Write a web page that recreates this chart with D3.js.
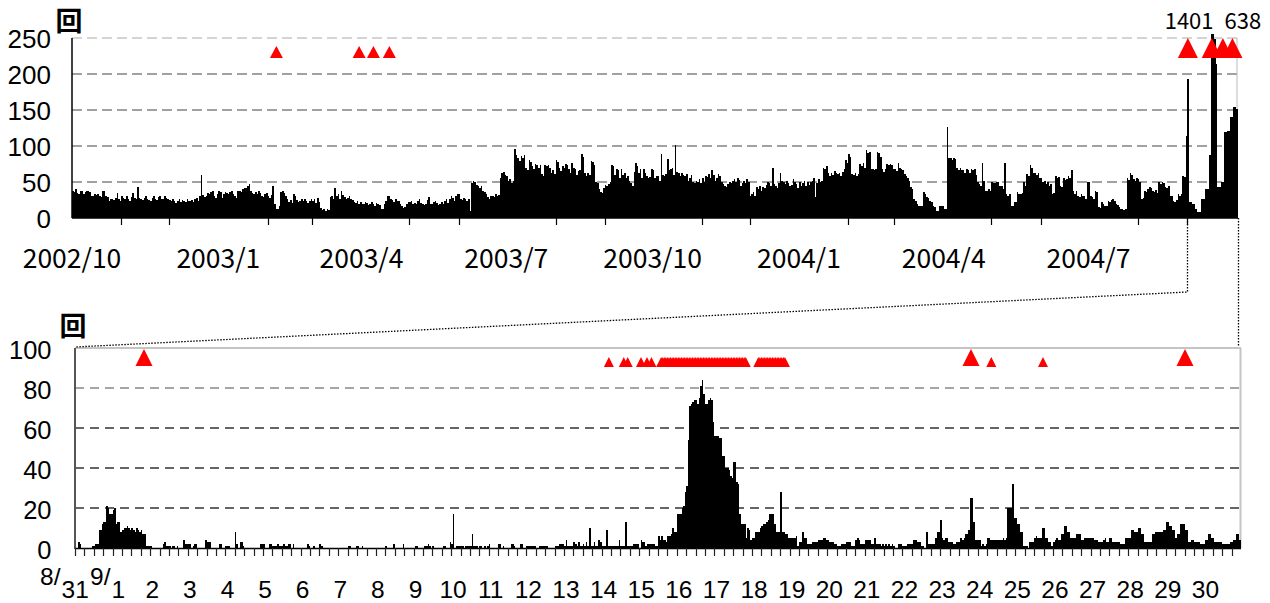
<!DOCTYPE html>
<html><head><meta charset="utf-8">
<script src="https://cdn.jsdelivr.net/npm/d3@7"></script>
<style>body{margin:0;background:#fff}svg{display:block}</style>
</head><body>
<svg id="c" width="1270" height="603"></svg>
<script>
// ---------------- TOP PANEL DATA (daily counts, 2002/10/1 .. 2004/10/2) ----------------
const oct02 = [38,36,40,35,33,38,37,33,36,38,37,36,31,30,34,32,33,30,29,37,38,30,29,24,27,26,25,28,35,27,24];
const nov02 = [30,28,26,31,27,24,29,35,28,26,43,28,26,25,28,30,26,25,24,28,31,27,25,29,30,27,26,31,28,27];
const dec02 = [25,24,27,23,21,24,26,22,25,23,22,26,24,23,25,22,26,28,24,30,60,32,29,31,35,33,36,37,30,28,34];
const jan03 = [37,36,28,34,36,35,33,36,37,34,30,28,37,38,36,40,42,41,45,47,38,35,33,36,34,37,35,30,29,33,35];
const feb03 = [30,28,32,45,20,12,13,16,36,38,35,30,27,22,25,21,34,30,25,22,24,27,23,26,24,21,23,26];
const mar03 = [24,26,21,28,22,14,11,12,10,13,11,29,31,26,42,30,33,27,37,32,29,27,28,30,26,25,22,21,24,20,22];
const apr03 = [20,19,22,21,18,20,22,19,17,21,20,18,13,12,19,24,31,30,27,25,22,26,24,23,20,16,14,15,20,22];
const may03 = [22,24,19,21,20,23,26,21,19,18,20,25,29,20,19,22,24,21,18,20,22,19,23,27,21,26,30,28,24,30,33];
const jun03 = [34,27,25,28,26,24,27,10,48,52,50,46,44,42,45,38,36,34,29,27,30,31,29,33,30,32,55,62,64,60];
const jul03 = [58,52,54,48,51,96,88,84,79,86,84,87,70,66,80,78,72,68,75,73,70,74,61,58,74,72,73,70,63,66,61];
const aug03 = [80,78,70,65,72,70,75,73,68,62,76,70,68,60,65,66,89,85,63,58,63,60,79,78,74,50,48,40,36,35,42];
const sep03 = [46,44,47,50,73,72,60,68,66,55,68,60,62,55,59,52,48,45,64,76,72,62,68,55,68,62,59,55,57,68];
const oct03 = [66,56,59,58,52,89,60,58,61,82,66,68,70,60,102,64,63,58,63,60,58,61,52,55,60,50,48,52,50,54,49];
const nov03 = [56,50,59,57,61,55,66,60,52,56,61,58,50,47,45,43,47,50,48,52,54,50,55,53,45,48,52,49,54,50];
const dec03 = [31,34,36,30,43,40,45,38,43,41,46,50,48,44,70,47,45,42,48,63,52,50,47,52,48,44,46,54,50,47,41];
const jan04 = [50,44,48,52,45,50,46,50,52,56,29,48,54,50,52,70,68,72,63,58,63,60,65,63,61,63,58,64,68,80,76];
const feb04 = [89,85,61,60,62,58,61,75,72,77,70,94,90,91,68,68,66,68,91,90,85,68,64,68,75,73,75,74,68];
const mar04 = [68,65,76,70,68,66,61,58,56,52,43,40,26,24,20,17,16,17,36,34,29,28,24,22,17,15,10,10,17,17,17];
const apr04 = [13,12,126,84,84,80,84,82,70,66,70,66,66,63,68,66,63,68,66,68,60,50,47,45,76,52,38,38,40,38];
const may04 = [50,48,48,50,50,45,45,40,76,33,30,33,17,16,22,22,36,34,33,35,50,45,61,58,74,70,62,63,60,63,56];
const jun04 = [56,50,52,47,50,44,47,33,35,59,55,57,45,43,56,53,54,58,55,66,38,33,38,31,29,33,30,31,27,50];
const jul04 = [50,30,29,27,38,36,15,14,22,20,17,16,24,22,25,26,24,19,18,15,13,12,11,13,56,53,63,60,54,52,55];
const aug04 = [54,50,26,28,38,36,40,43,41,38,36,39,35,50,47,50,48,43,41,44,31,30,24,22,25,33,31,34,59,57,114];
const sep04 = [193,22,22,19,19,12,8,8,8,26,26,40,40,40,87,1401,638,248,214,43,43,50,50,119,119,121,121,140,140,154];
const oct04 = [154,152];

const topYTicks = [0,50,100,150,200,250];
const topXLabels = ["2002/10","2003/1","2003/4","2003/7","2003/10","2004/1","2004/4","2004/7"];
const topEruptSmall = ["2003-02-06","2003-03-30","2003-04-08","2003-04-18"];
const topEruptBig = ["2004-09-01","2004-09-16","2004-09-23","2004-09-29"];
const topValueNotes = [["1401","2004-09-16"],["638","2004-09-17"]];

// ---------------- BOTTOM PANEL DATA (hourly counts, 2004/8/31 .. 9/30) ----------------
const h0831 = [0,0,3,2,0,0,0,0,0,0,0,1,1,2,2,9,9,12,13,13,21,20,17,17];
const h0901 = [19,20,12,13,13,8,9,10,10,11,10,9,10,9,8,10,9,8,9,7,7,1,1,1];
const h0902 = [1,0,0,0,0,0,0,0,2,3,1,1,1,0,1,1,0,1,0,0,0,4,2,2];
const h0903 = [2,2,0,1,2,2,0,0,0,0,0,4,3,3,3,0,0,0,0,0,2,2,0,0];
const h0904 = [1,1,1,0,0,0,8,2,0,3,3,1,0,0,0,0,0,0,0,0,0,0,2,2];
const h0905 = [2,0,0,0,2,2,1,1,1,2,1,1,1,2,1,1,2,2,0,2,0,0,0,0];
const h0906 = [0,0,0,0,2,1,0,0,1,0,0,0,2,1,0,0,0,0,0,0,0,0,0,0];
const h0907 = [0,0,0,0,0,0,1,1,0,0,0,1,1,0,0,1,0,0,0,0,0,0,0,0];
const h0908 = [0,0,0,0,0,0,1,0,0,0,0,2,0,0,0,0,0,2,0,0,0,0,0,0];
const h0909 = [0,1,1,0,0,0,0,1,1,2,1,0,1,0,0,0,0,0,0,1,1,0,0,3];
const h0910 = [2,17,0,1,1,1,1,1,0,1,1,1,1,7,1,1,1,0,1,1,0,1,0,1];
const h0911 = [2,0,0,0,0,0,2,2,0,1,0,0,0,0,2,2,1,0,0,0,2,2,0,0];
const h0912 = [1,1,1,1,1,1,0,0,1,1,1,1,1,1,0,0,0,0,1,1,1,2,2,2];
const h0913 = [1,4,1,1,1,1,3,2,1,3,1,1,2,1,3,1,10,1,1,3,1,1,4,3];
const h0914 = [1,1,1,9,1,1,1,1,1,1,1,4,1,1,1,13,1,1,1,1,2,2,2,2];
const h0915 = [0,4,3,3,1,2,2,2,2,2,1,1,6,4,6,4,4,3,6,6,7,10,8,8];
const h0916 = [17,17,17,20,21,28,31,54,71,72,73,74,74,72,75,81,84,77,72,72,74,75,74,63];
const h0917 = [56,56,56,55,55,46,46,40,40,39,36,35,43,43,33,32,17,12,12,12,5,10,9,4];
const h0918 = [5,5,8,8,8,10,11,12,12,13,14,17,17,17,12,8,8,8,28,8,8,7,7,5];
const h0919 = [5,5,5,5,6,1,3,3,8,5,5,2,2,2,3,3,3,3,4,4,4,5,5,4];
const h0920 = [4,3,3,3,2,2,1,1,1,2,2,2,3,3,3,1,1,1,4,5,4,2,2,2];
const h0921 = [4,4,4,4,2,2,5,2,2,2,1,2,1,2,1,2,1,2,1,0,0,2,2,2];
const h0922 = [1,1,1,2,2,2,2,4,4,3,3,3,1,1,0,8,2,2,2,2,2,5,8,8];
const h0923 = [14,5,4,5,5,3,3,3,2,2,3,3,3,5,4,5,7,7,9,25,25,13,4,4];
const h0924 = [4,4,1,2,1,2,5,5,4,4,4,4,4,4,4,4,5,4,5,20,20,20,32,15];
const h0925 = [15,12,12,8,8,1,1,1,0,3,3,3,5,6,5,5,5,10,10,5,5,3,3,1];
const h0926 = [3,4,5,4,4,7,7,11,11,8,8,5,5,5,5,7,7,7,4,4,5,5,5,5];
const h0927 = [5,5,4,4,4,3,3,3,4,5,3,3,5,5,3,3,3,3,3,2,2,2,5,5];
const h0928 = [5,5,9,9,8,8,10,10,7,7,3,3,3,3,3,7,7,8,8,8,8,8,9,9];
const h0929 = [13,13,11,11,9,9,5,7,7,12,12,12,9,9,3,3,4,4,3,3,3,3,2,2];
const h0930 = [2,4,4,7,7,5,5,3,3,3,3,3,2,2,2,2,2,3,3,4,4,7,7,4];

const botYTicks = [0,20,40,60,80,100];
const botDayLabels = ["2","3","4","5","6","7","8","9","10","11","12","13","14","15","16","17","18","19","20","21","22","23","24","25","26","27","28","29","30"];
const botEruptBig = ["2004-09-01T20:02","2004-09-23T19:44","2004-09-29T12:17"];
const botEruptSmall = ["2004-09-14T04:40","2004-09-14T14:10","2004-09-14T16:40","2004-09-15T01:10","2004-09-15T05:00","2004-09-15T07:50","2004-09-24T08:40","2004-09-25T17:40"];
const botEruptContinuous = [["2004-09-15T14:00","2004-09-17T20:00"],["2004-09-18T04:00","2004-09-18T21:00"]];

// ---------------- DRAW ----------------
const svg = d3.select("#c");
const NUMF = "'Liberation Sans', Arial, sans-serif";
const JPF = "'Noto Sans CJK JP', sans-serif";
const DAY = 864e5, HOUR = 36e5;
const utc = s => new Date(s + (s.length === 10 ? "T00:00Z" : "Z"));
const tri = (cx, base, w, h) => `M${cx - w/2},${base}L${cx + w/2},${base}L${cx},${base - h}Z`;

// ===== top =====
const daily = [oct02,nov02,dec02,jan03,feb03,mar03,apr03,may03,jun03,jul03,aug03,sep03,oct03,nov03,dec03,jan04,feb04,mar04,apr04,may04,jun04,jul04,aug04,sep04,oct04].flat();
const t0 = Date.UTC(2002,9,1);
const xT = d3.scaleUtc().domain([new Date(t0), new Date(t0 + daily.length*DAY)]).range([72,1238]);
const yT = d3.scaleLinear().domain([0,250]).range([218,38]);
const gT = svg.append("g");

gT.selectAll("line.grid").data(topYTicks.filter(v => v > 0)).join("line")
  .attr("x1",72).attr("x2",1238).attr("y1",d=>yT(d)).attr("y2",d=>yT(d))
  .attr("stroke",d=> d===250 ? "#aaa" : "#444").attr("stroke-width",1.2)
  .attr("stroke-dasharray","10,5");
gT.append("line").attr("x1",1237).attr("x2",1237).attr("y1",yT(250)).attr("y2",218).attr("stroke","#bbb");

gT.append("g").attr("shape-rendering","crispEdges").selectAll("rect").data(daily).join("rect")
  .attr("x",(d,i)=>xT(new Date(t0+i*DAY)))
  .attr("width",(d,i)=>xT(new Date(t0+(i+1)*DAY)) - xT(new Date(t0+i*DAY)))
  .attr("y",d=>yT(Math.min(d,256)))
  .attr("height",d=>yT(0)-yT(Math.min(d,256)))
  .attr("fill","#000");

gT.append("line").attr("x1",72).attr("x2",72).attr("y1",yT(250)).attr("y2",yT(0)).attr("stroke","#000").attr("stroke-width",1.5);
gT.append("line").attr("x1",72).attr("x2",1238).attr("y1",yT(0)).attr("y2",yT(0)).attr("stroke","#000").attr("stroke-width",1.5);
const months = d3.utcMonth.range(new Date(Date.UTC(2002,10,1)), new Date(Date.UTC(2004,8,2))).filter(m => m.getUTCMonth() % 3 !== 0);
gT.selectAll("line.tk").data(months).join("line")
  .attr("x1",d=>Math.round(xT(d))+0.5).attr("x2",d=>Math.round(xT(d))+0.5).attr("y1",218).attr("y2",225)
  .attr("stroke","#000").attr("stroke-width",1.2);

gT.selectAll("text.yl").data(topYTicks).join("text")
  .attr("x",51).attr("y",d=>yT(d)+9.5).attr("text-anchor","end")
  .attr("font-family",NUMF).attr("font-size",26).text(d=>d);
gT.selectAll("text.xl").data(topXLabels).join("text")
  .attr("x",d=>{const [y,m]=d.split("/").map(Number); return xT(new Date(Date.UTC(y,m-1,1)));})
  .attr("y",268).attr("text-anchor","middle")
  .attr("font-family",JPF).attr("font-size",26.5).text(d=>d);
gT.append("text").attr("x",69).attr("y",31).attr("text-anchor","middle")
  .attr("font-family",JPF).attr("font-weight",700).attr("font-size",27).text("回");

gT.selectAll("path.es").data(topEruptSmall).join("path")
  .attr("d",d=>tri(xT(new Date(utc(d).getTime()+DAY/2)),58,13,12)).attr("fill","#f00");
gT.selectAll("path.eb").data(topEruptBig).join("path")
  .attr("d",d=>tri(xT(new Date(utc(d).getTime()+DAY/2)),58,20,20)).attr("fill","#f00");
gT.append("text").attr("x",xT(new Date(utc(topValueNotes[0][1]).getTime()+DAY))+1).attr("y",28.5).attr("text-anchor","end")
  .attr("font-family",JPF).attr("font-size",22).text(topValueNotes[0][0]);
gT.append("text").attr("x",xT(new Date(utc(topValueNotes[1][1]).getTime()))+12).attr("y",28.5).attr("text-anchor","start")
  .attr("font-family",JPF).attr("font-size",22).text(topValueNotes[1][0]);

// ===== bottom =====
const hourly = [h0831,h0901,h0902,h0903,h0904,h0905,h0906,h0907,h0908,h0909,h0910,h0911,h0912,h0913,h0914,h0915,h0916,h0917,h0918,h0919,h0920,h0921,h0922,h0923,h0924,h0925,h0926,h0927,h0928,h0929,h0930].flat();
const b0 = Date.UTC(2004,7,31);
const xB = d3.scaleUtc().domain([new Date(b0), new Date(b0 + hourly.length*HOUR)]).range([75,1241]);
const yB = d3.scaleLinear().domain([0,100]).range([548,348]);
const gB = svg.append("g");

gB.selectAll("line.grid").data(botYTicks.filter(v => v > 0 && v < 100)).join("line")
  .attr("x1",75).attr("x2",1240).attr("y1",d=>yB(d)).attr("y2",d=>yB(d))
  .attr("stroke",d=> d===80 ? "#888" : "#333").attr("stroke-width",1.3)
  .attr("stroke-dasharray","9,6");
gB.append("line").attr("x1",75).attr("x2",1241).attr("y1",yB(100)).attr("y2",yB(100)).attr("stroke","#c4c4c4").attr("stroke-width",2);
gB.append("line").attr("x1",1240.5).attr("x2",1240.5).attr("y1",yB(100)).attr("y2",548).attr("stroke","#c4c4c4").attr("stroke-width",2);

gB.append("g").attr("shape-rendering","crispEdges").selectAll("rect").data(hourly).join("rect")
  .attr("x",(d,i)=>xB(new Date(b0+i*HOUR)))
  .attr("width",(d,i)=>xB(new Date(b0+(i+1)*HOUR)) - xB(new Date(b0+i*HOUR)))
  .attr("y",d=>yB(d)).attr("height",d=>yB(0)-yB(d)).attr("fill","#000");

gB.append("line").attr("x1",75).attr("x2",75).attr("y1",yB(100)).attr("y2",549).attr("stroke","#555").attr("stroke-width",2);
gB.append("line").attr("x1",75).attr("x2",1241).attr("y1",548.5).attr("y2",548.5).attr("stroke","#000").attr("stroke-width",1.5);
const sixH = d3.range(0, hourly.length - 3, 6);
gB.selectAll("line.tk").data(sixH).join("line")
  .attr("x1",d=>Math.round(xB(new Date(b0+d*HOUR)))+0.5).attr("x2",d=>Math.round(xB(new Date(b0+d*HOUR)))+0.5)
  .attr("y1",548).attr("y2",556).attr("stroke","#222").attr("stroke-width",1.2);

gB.selectAll("text.yl").data(botYTicks).join("text")
  .attr("x",51.5).attr("y",d=>yB(d)+11).attr("text-anchor","end")
  .attr("font-family",NUMF).attr("font-size",25.5).text(d=>d);
gB.selectAll("text.xl").data(botDayLabels).join("text")
  .attr("x",d=>xB(new Date(Date.UTC(2004,8,+d)))+2).attr("y",598).attr("text-anchor","middle")
  .attr("font-family",NUMF).attr("font-size",24.5).text(d=>d);
[["8/",40,585],["31",61.5,598],["9/",90,585],["1",111.5,598]].forEach(([t,x,y]) =>
  gB.append("text").attr("x",x).attr("y",y).attr("font-family",NUMF).attr("font-size",24.5).text(t));
gB.append("text").attr("x",73).attr("y",336).attr("text-anchor","middle")
  .attr("font-family",JPF).attr("font-weight",700).attr("font-size",27).text("回");

gB.selectAll("path.eb").data(botEruptBig).join("path")
  .attr("d",d=>tri(xB(utc(d)),366,17,17)).attr("fill","#f00");
gB.selectAll("path.es").data(botEruptSmall).join("path")
  .attr("d",d=>tri(xB(utc(d)),367,10,10)).attr("fill","#f00");
botEruptContinuous.forEach(([a,b]) => {
  const hrs = d3.utcHour.range(utc(a), new Date(utc(b).getTime()+1));
  gB.append("g").selectAll("path").data(hrs).join("path")
    .attr("d",d=>tri(xB(d),367,10,10)).attr("fill","#f00");
});

svg.append("path").attr("d",`M${Math.round(xT(new Date(Date.UTC(2004,8,1))))+0.5},218V292L75,347`)
  .attr("fill","none").attr("stroke","#000").attr("stroke-width",1.3).attr("stroke-dasharray","1.5,1.5");
svg.append("path").attr("d",`M1238.5,218V347`)
  .attr("fill","none").attr("stroke","#000").attr("stroke-width",1.3).attr("stroke-dasharray","1.5,1.5");
</script>
</body></html>
